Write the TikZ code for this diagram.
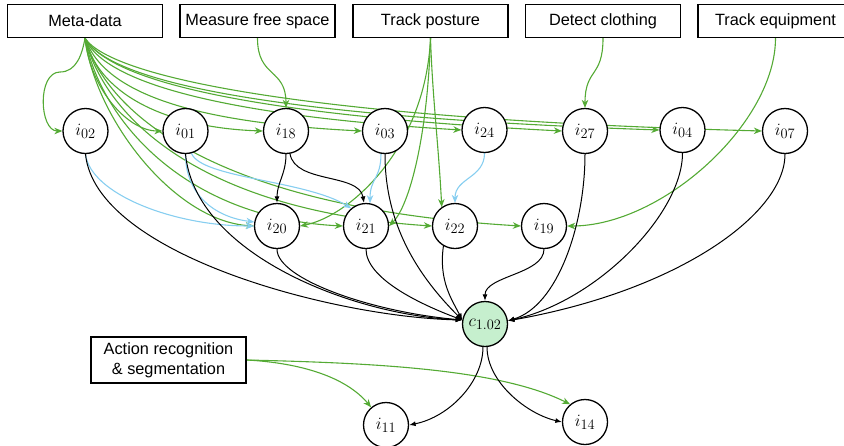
\documentclass[tikz,border=0pt]{standalone}
\usepackage[no-math]{fontspec}
\setmainfont{Liberation Sans}
\usetikzlibrary{arrows.meta,backgrounds}
\definecolor{linkgreen}{RGB}{84,170,52}
\definecolor{linkblue}{RGB}{135,206,240}
\definecolor{clausefill}{RGB}{198,239,206}

\begin{document}
\begin{tikzpicture}[x=1pt,y=-1pt,
  taskbox/.style={draw=black, line width=1.4pt, fill=white, minimum width=155pt,
    minimum height=33pt, inner sep=0pt, font=\fontsize{16.3}{20}\selectfont},
  info/.style={circle, draw=black, line width=1.3pt, fill=white, minimum size=45pt,
    inner sep=0pt, font=\fontsize{19}{22}\selectfont},
  clause/.style={info, fill=clausefill},
  gflow/.style={draw=linkgreen, line width=1.1pt, -{Stealth[length=8pt,width=6.5pt,inset=2.5pt]}},
  bflow/.style={draw=linkblue, line width=1.1pt, -{Stealth[length=8pt,width=6.5pt,inset=2.5pt]}},
  kflow/.style={draw=black, line width=1.0pt, -{Latex[length=6.5pt,width=5pt]}},
]
\useasboundingbox (0,0) rectangle (844,445);

% task boxes
\node[taskbox] (meta) at (85,21) {Meta-data};
\node[taskbox] (mfs) at (257.5,21) {Measure free space};
\node[taskbox] (tp) at (430.5,21) {Track posture};
\node[taskbox] (dc) at (603,21) {Detect clothing};
\node[taskbox] (te) at (775.5,21) {Track equipment};
\node[taskbox, minimum height=46pt, align=center] (act) at (168.5,360)
  {Action recognition\\\& segmentation};

% information items, first row
\node[info] (i02) at (85.5,131) {$i_{02}$};
\node[info] (i01) at (185.5,131) {$i_{01}$};
\node[info] (i18) at (286,131) {$i_{18}$};
\node[info] (i03) at (385,131) {$i_{03}$};
\node[info] (i24) at (484.5,130) {$i_{24}$};
\node[info] (i27) at (585,131) {$i_{27}$};
\node[info] (i04) at (682.5,130) {$i_{04}$};
\node[info] (i07) at (785,131) {$i_{07}$};
% second row
\node[info] (i20) at (277,226) {$i_{20}$};
\node[info] (i21) at (366,226) {$i_{21}$};
\node[info] (i22) at (455,226) {$i_{22}$};
\node[info] (i19) at (544,226) {$i_{19}$};
% clause and outputs
\node[clause] (c) at (485,324) {$c_{1.02}$};
\node[info] (i11) at (386,425) {$i_{11}$};
\node[info] (i14) at (585,422) {$i_{14}$};

\coordinate (b02) at (60,72);

\begin{scope}[on background layer]
  % meta-data fan
  \draw[gflow] (meta.south) to[out=-100,in=0] (b02) to[out=180,in=180] (i02.west);
  \draw[gflow] (meta.south) .. controls +(5,50) and +(-35,0) .. (i01.west);
  \draw[gflow] (meta.south) .. controls +(15,60) and +(-90,-3) .. (i18.west);
  \draw[gflow] (meta.south) .. controls +(20,58) and +(-160,-8) .. (i03.west);
  \draw[gflow] (meta.south) .. controls +(22,52) and +(-200,-12) .. (i24.west);
  \draw[gflow] (meta.south) .. controls +(25,43) and +(-312,-16) .. (i27.west);
  \draw[gflow] (meta.south) .. controls +(25,45) and +(-380,-13) .. (i04.west);
  \draw[gflow] (meta.south) .. controls +(27,40) and +(-450,-12) .. (i07.west);
  \draw[gflow] (meta.south) .. controls +(10,80) and +(-80,-5) .. (i20.west);
  \draw[gflow] (meta.south) .. controls +(15,80) and +(-160,-8) .. (i21.west);
  \draw[gflow] (meta.south) .. controls +(20,80) and +(-230,-15) .. (i22.west);
  \draw[gflow] (meta.south) .. controls +(22,78) and +(-300,-18) .. (i19.west);

  % other task outputs
  \draw[gflow] (mfs.south) .. controls +(0,40) and +(0,-40) .. (i18.north);
  \draw[gflow] (dc.south) .. controls +(0,40) and +(0,-40) .. (i27.north);
  \draw[gflow] (tp.south) .. controls +(-5,110) and +(50,-10) .. (i20.east);
  \draw[gflow] (tp.south) .. controls +(-3,100) and +(20,-20) .. (i21.east);
  \draw[gflow] (tp.south) .. controls +(2,60) and +(-3,-60) .. (i22.125);
  \draw[gflow] (te.south) .. controls +(0,85) and +(95,0) .. (i19.east);
  \draw[gflow] (act.east) .. controls +(55,3) and +(-25,-30) .. (i11.130);
  \draw[gflow] (act.east) .. controls +(130,3) and +(-70,-35) .. (i14.130);

  % derived items
  \draw[bflow] (i02.south) .. controls +(5,40) and +(-80,0) .. (i20.west);
  \draw[bflow] (i01.south) .. controls +(0,40) and +(-40,-5) .. (i20.170);
  \draw[bflow] (i01.-75) .. controls +(10,25) and +(-45,-28) .. (i21.130);
  \draw[bflow] (i03.-100) .. controls +(0,25) and +(0,-25) .. (i21.80);
  \draw[bflow] (i24.south) .. controls +(0,25) and +(0,-25) .. (i22.north);

  \draw[kflow] (i18.south) .. controls +(0,20) and +(0,-20) .. (i20.north);
  \draw[kflow] (i18.-80) .. controls +(5,30) and +(-5,-30) .. (i21.95);

  % inputs of the clause
  \draw[kflow] (i02.south) .. controls +(10,100) and +(-130,-3) .. (c.170);
  \draw[kflow] (i01.south) .. controls +(10,100) and +(-110,-5) .. (c.170);
  \draw[kflow] (i20.south) .. controls +(0,30) and +(-90,-8) .. (c.170);
  \draw[kflow] (i21.south) .. controls +(0,30) and +(-40,-15) .. (c.170);
  \draw[kflow] (i03.south) .. controls +(0,70) and +(-45,-45) .. (c.170);
  \draw[kflow] (i22.240) .. controls +(-5,35) and +(-10,-20) .. (c.170);
  \draw[kflow] (i19.south) .. controls +(0,25) and +(0,-25) .. (c.north);
  \draw[kflow] (i27.south) .. controls +(0,70) and +(50,-15) .. (c.8);
  \draw[kflow] (i04.south) .. controls +(0,60) and +(90,-20) .. (c.8);
  \draw[kflow] (i07.south) .. controls +(0,60) and +(170,-30) .. (c.8);

  % outputs of the clause
  \draw[kflow] (c.-95) .. controls +(0,35) and +(40,-8) .. (i11.east);
  \draw[kflow] (c.-85) .. controls +(0,35) and +(-35,-8) .. (i14.west);
\end{scope}
\end{tikzpicture}
\end{document}
